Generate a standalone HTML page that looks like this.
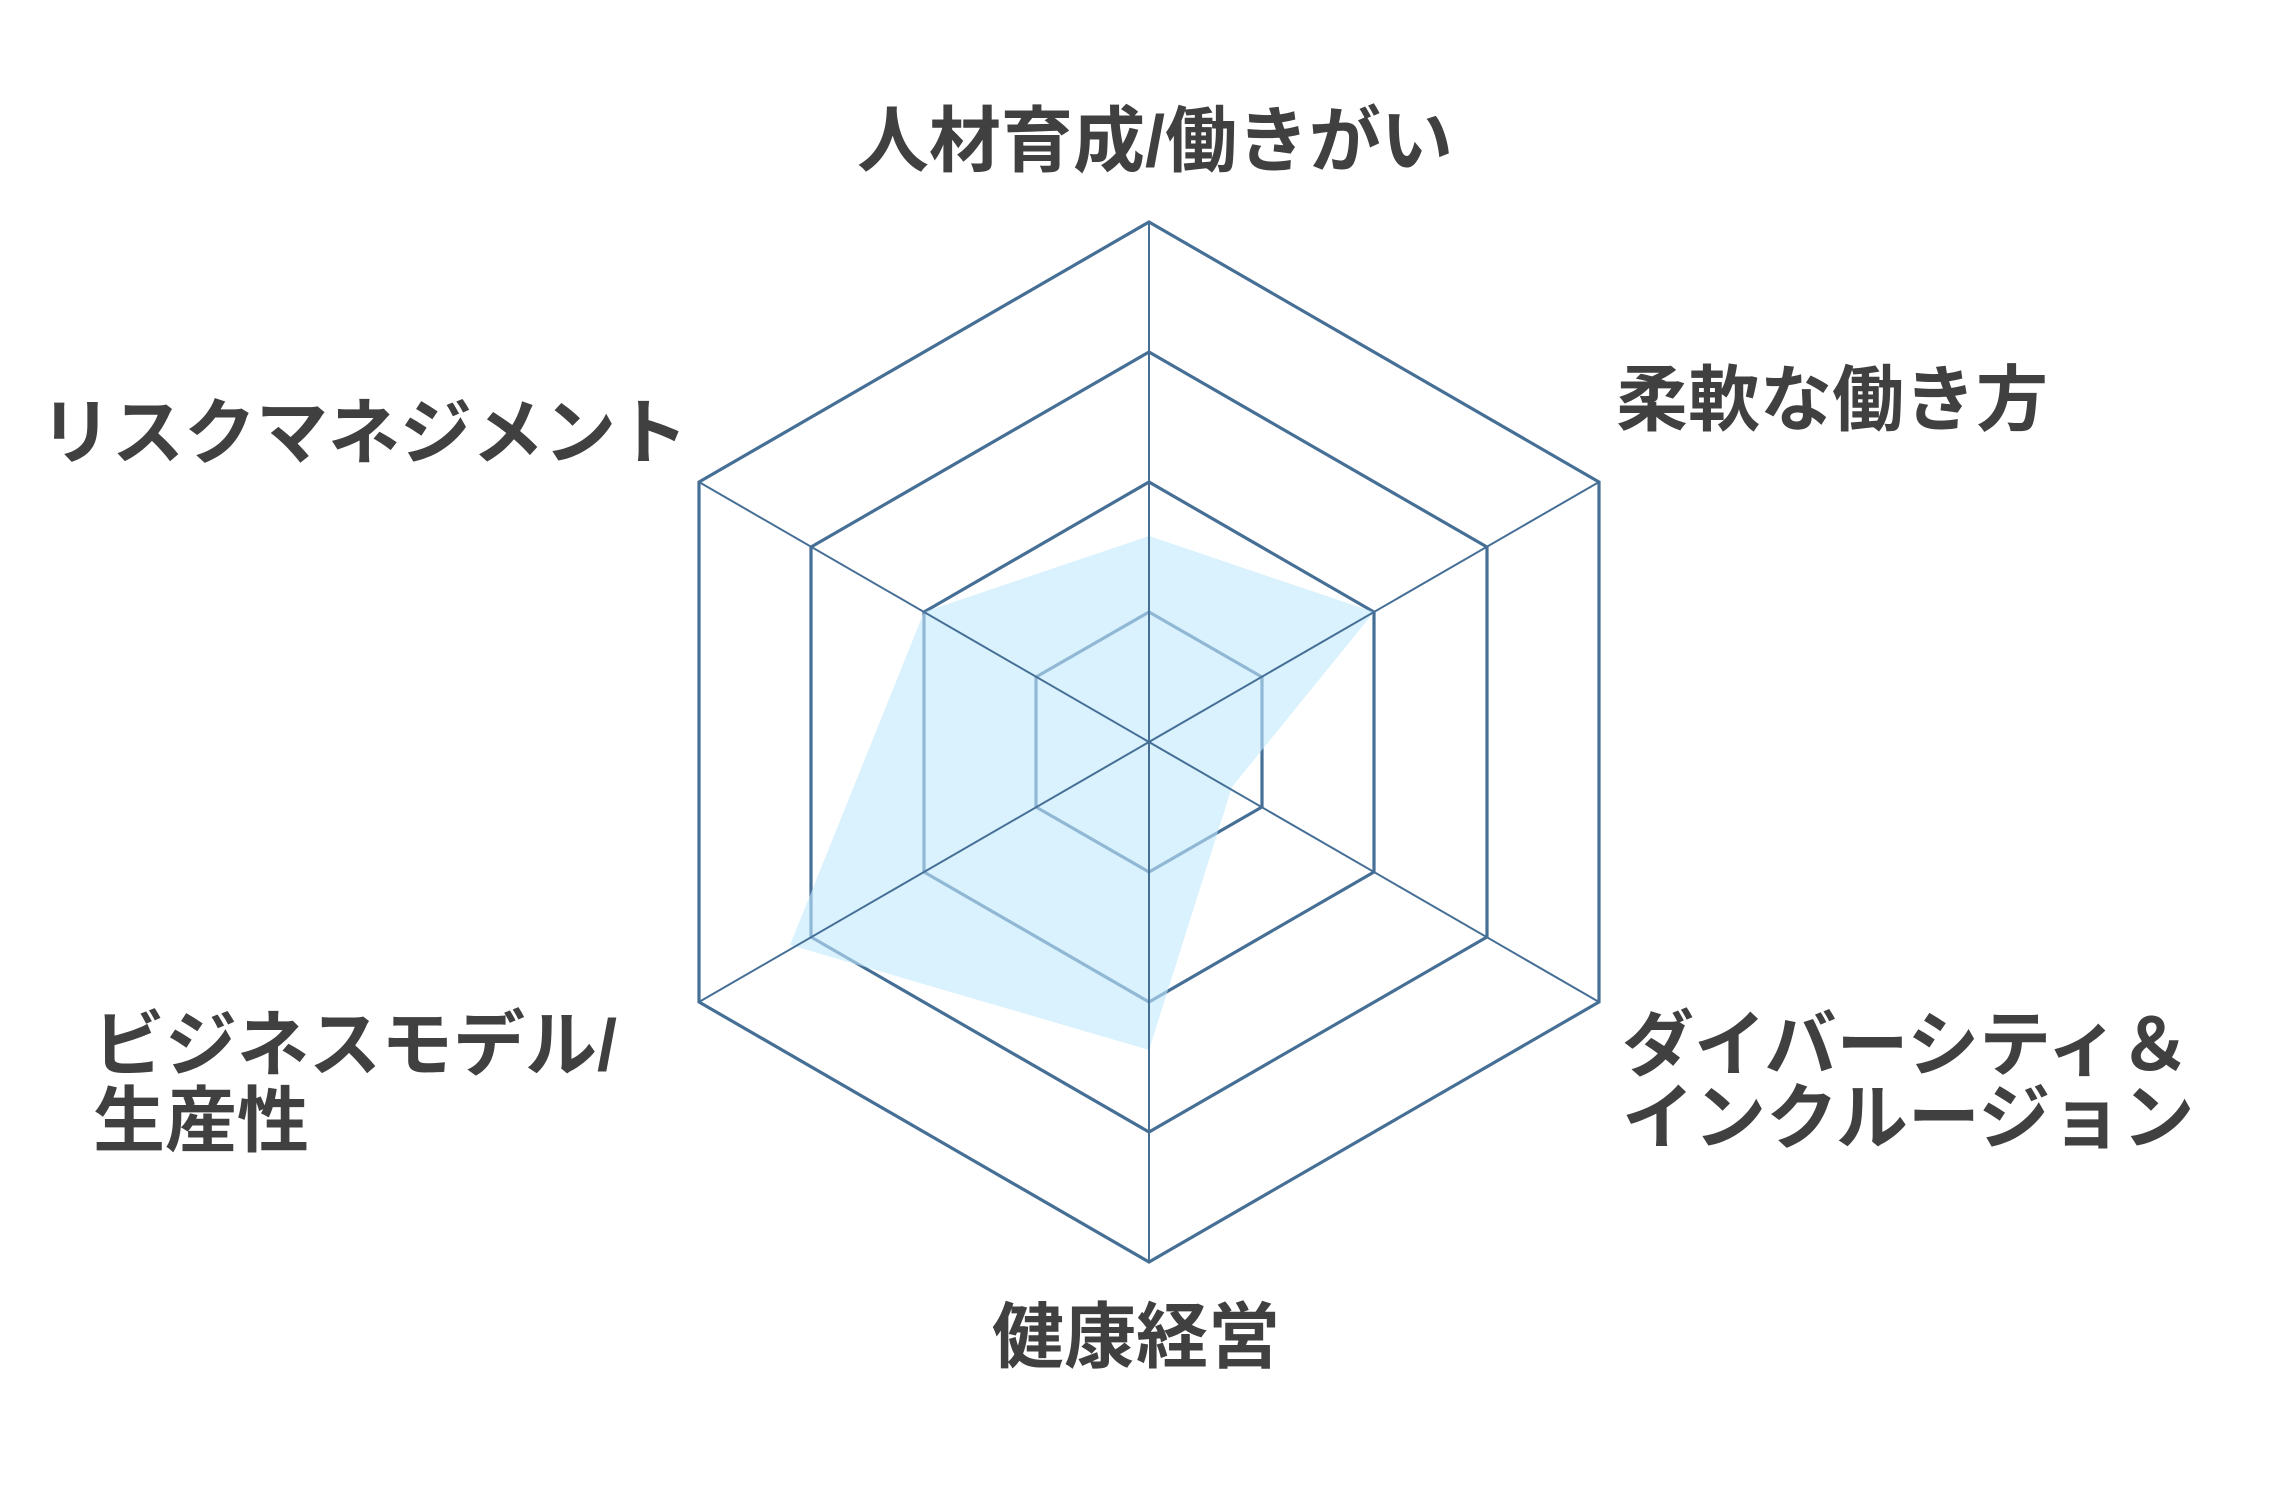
<!DOCTYPE html>
<html><head><meta charset="utf-8"><style>
html,body{margin:0;padding:0;background:#fff;}
svg{display:block;}
text{font-family:"Liberation Sans","Noto Sans CJK JP",sans-serif;font-weight:bold;fill:#404040;font-size:72px;}
</style></head><body>
<svg width="2285" height="1510" viewBox="0 0 2285 1510" xmlns="http://www.w3.org/2000/svg">
<g fill="none" stroke="#466f96" stroke-width="3.2">
<polygon points="1149,222 1599,482 1599,1002 1149,1262 699,1002 699,482"/>
<polygon points="1149,352 1487,547 1487,937 1149,1132 811,937 811,547"/>
<polygon points="1149,482 1374,612 1374,872 1149,1002 924,872 924,612"/>
<polygon points="1149,612 1262,677 1262,807 1149,872 1036,807 1036,677"/>
</g>
<polygon points="1149,536 1374,612 1232,787 1149,1050 790,945 924,612" fill="rgb(194,233,253)" fill-opacity="0.6"/>
<g stroke="#466f96" stroke-width="2">
<line x1="1149" y1="222" x2="1149" y2="1262"/>
<line x1="1599" y1="482" x2="699" y2="1002"/>
<line x1="1599" y1="1002" x2="699" y2="482"/>
</g>
<text x="1155" y="166" text-anchor="middle">人材育成/働きがい</text>
<text x="1616" y="425">柔軟な働き方</text>
<text x="40" y="458">リスクマネジメント</text>
<text x="93" y="1070">ビジネスモデル/</text>
<text x="93" y="1146">生産性</text>
<text x="1622" y="1070">ダイバーシティ＆</text>
<text x="1622" y="1143">インクルージョン</text>
<text x="1136" y="1362" text-anchor="middle">健康経営</text>
</svg>
</body></html>
